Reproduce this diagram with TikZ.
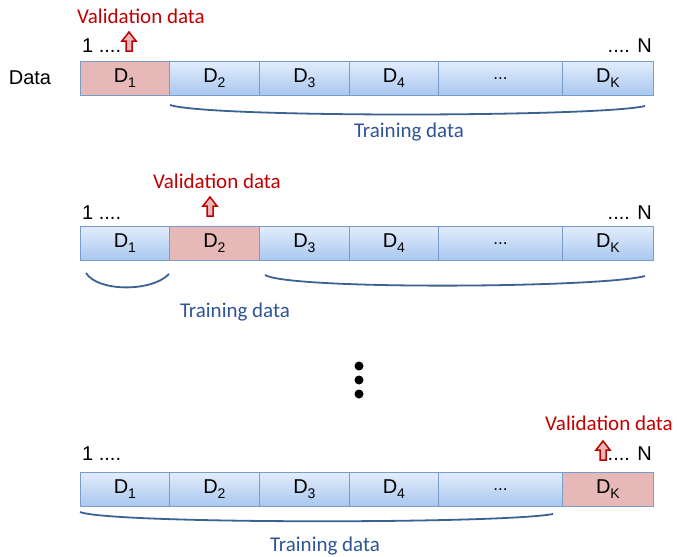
\documentclass[tikz,border=0pt]{standalone}
\usepackage{fontspec}
\setmainfont{Liberation Sans}
\newfontfamily\calib{Carlito}
\newcommand\sub[1]{\raisebox{-5pt}{\fontsize{14}{14}\selectfont #1}}
\begin{document}
\begin{tikzpicture}[x=1pt,y=-1pt,
  cell/.style={draw=boxline, line width=0.8pt, anchor=north west, minimum height=34pt, inner sep=0pt, font=\fontsize{20}{22}\selectfont, top color=bluetop, bottom color=bluebot},
  valcell/.style={cell, top color=pinkfill, bottom color=pinkfill},
  vtext/.style={font=\calib\fontsize{21}{23}\selectfont, text=valred, inner sep=0pt},
  ttext/.style={font=\calib\fontsize{21}{23}\selectfont, text=trainblue, inner sep=0pt},
  plain/.style={font=\fontsize{20}{22}\selectfont, inner sep=0pt},
  brace/.style={draw=braceblue, line width=1.8pt},
  uparrow/.style={draw=valred, fill=arrowpink, line width=1.5pt, line join=miter},
  dot/.style={fill=black, circle, inner sep=0pt, minimum size=9pt}
]
\definecolor{boxline}{HTML}{7A9CCB}
\definecolor{bluetop}{HTML}{E2EDFC}
\definecolor{bluebot}{HTML}{A9C7EF}
\definecolor{pinkfill}{HTML}{E6B9B8}
\definecolor{valred}{HTML}{C00000}
\definecolor{arrowpink}{HTML}{E6B9B8}
\definecolor{trainblue}{HTML}{2F5597}
\definecolor{braceblue}{HTML}{3A6393}
\useasboundingbox (0,0) rectangle (678,557);
\fill[white] (0,0) rectangle (678,557);

\newcommand\drawrow[4]{% #1 y top, #2 prefix, #3 which cell is validation (1,2,K), #4 baseline of 1..N
  \foreach \xa/\xb/\lab/\nm in {80/169/{D\sub{1}}/1, 169/259/{D\sub{2}}/2, 259/349/{D\sub{3}}/3, 349/438/{D\sub{4}}/4, 438/562/{\fontsize{17}{17}\selectfont ...}/5, 562/653/{D\sub{K}}/K}{
    \pgfmathsetmacro\cellw{\xb-\xa}
    \edef\tmpa{\nm}\edef\tmpb{#3}%
    \ifx\tmpa\tmpb
      \node[valcell, minimum width=\cellw pt] (#2\nm) at (\xa,#1) {\lab};
    \else
      \node[cell, minimum width=\cellw pt] (#2\nm) at (\xa,#1) {\lab};
    \fi
  }
  \node[plain, anchor=base west] (#2one) at (82,#4) {1 ....};
  \node[plain, anchor=base east] (#2N) at (652,#4) {.... N};
}

% Row 1
\drawrow{61}{a}{1}{52}
\node[plain] (data) at (30,78) {Data};
\node[vtext] (va) at (141,16) {Validation data};
\draw[uparrow] (126,51) -- ++(0,-10) -- ++(-4,0) -- ++(7,-9) -- ++(7,9) -- ++(-4,0) -- ++(0,10) -- cycle;
\coordinate (ab1) at (170,105);
\coordinate (ab2) at (645,106);
\draw[brace] (ab1) .. controls (210,118) and (600,117) .. (ab2);
\node[ttext] (ta) at (409,132) {Training data};

% Row 2
\drawrow{226}{b}{2}{219}
\node[vtext] (vb) at (217,181) {Validation data};
\draw[uparrow] (207,216) -- ++(0,-10) -- ++(-4,0) -- ++(7,-9) -- ++(7,9) -- ++(-4,0) -- ++(0,10) -- cycle;
\coordinate (bb1) at (86,273);
\coordinate (bb2) at (169,274);
\draw[brace] (bb1) .. controls (98,292) and (152,292) .. (bb2);
\coordinate (bb3) at (265,275);
\coordinate (bb4) at (645,276);
\draw[brace] (bb3) .. controls (290,290) and (600,288) .. (bb4);
\node[ttext] (tb) at (235,312) {Training data};

% dots
\node[dot] (d1) at (359,366) {};
\node[dot] (d2) at (359,380) {};
\node[dot] (d3) at (359,394) {};

% Row 3
\drawrow{472}{c}{K}{460}
\node[vtext] (vc) at (609,423) {Validation data};
\draw[uparrow] (600,460) -- ++(0,-10) -- ++(-4,0) -- ++(7,-9) -- ++(7,9) -- ++(-4,0) -- ++(0,10) -- cycle;
\coordinate (cb1) at (80,512);
\coordinate (cb2) at (553,514);
\draw[brace] (cb1) .. controls (110,524) and (500,524) .. (cb2);
\node[ttext] (tc) at (325,546) {Training data};
\end{tikzpicture}
\end{document}
